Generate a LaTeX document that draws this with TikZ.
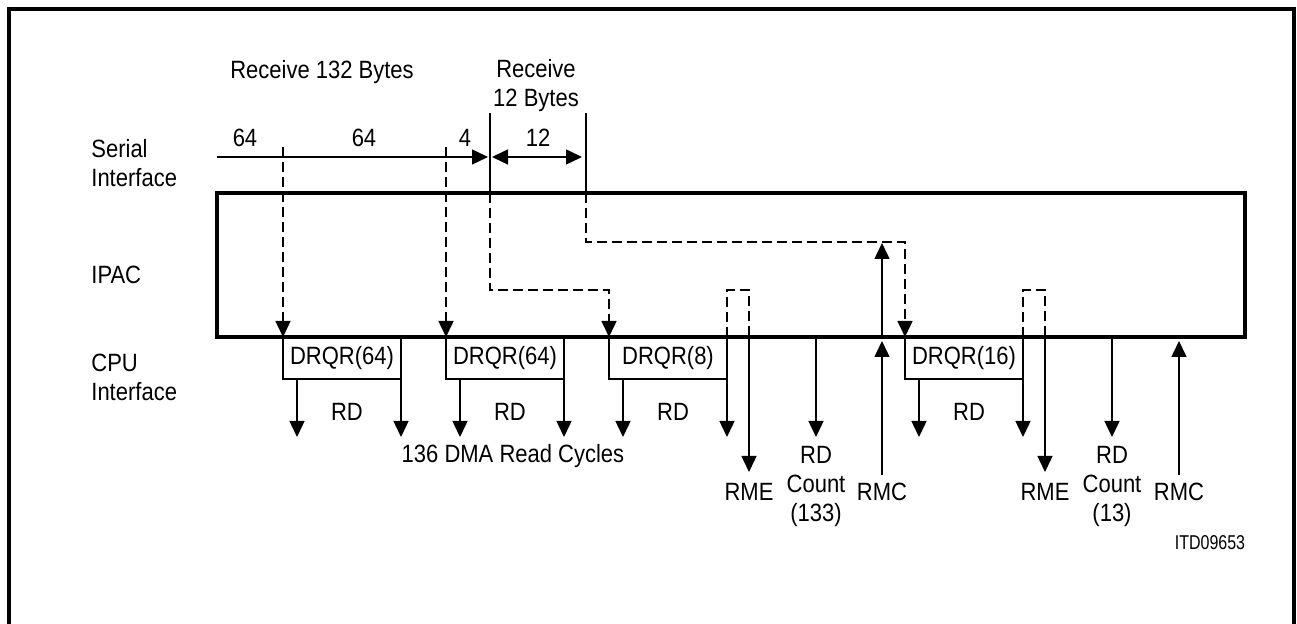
\documentclass[tikz,border=0pt]{standalone}
\usepackage{fontspec}
\setmainfont[FakeStretch=0.88]{Liberation Sans}
\newfontfamily\itdfont[FakeStretch=0.8]{Liberation Sans}
\usetikzlibrary{arrows.meta}

\def\yTop{193}
\def\yBot{337}
\def\yBox{379}
\def\yArr{437}

\begin{document}
\begin{tikzpicture}[x=0.5pt, y=-0.5pt]

  \tikzstyle{frame} = [line width=1.6pt]
  \tikzstyle{sig}   = [line width=0.75pt]
  \tikzstyle{dsh}   = [line width=0.75pt, dash pattern=on 5pt off 2.5pt]
  \tikzstyle{arr}   = [-{Triangle[length=8pt,width=7.5pt]}]
  \tikzstyle{darr}  = [{Triangle[length=8pt,width=7.5pt]}-{Triangle[length=8pt,width=7.5pt]}]
  \tikzstyle{lbl}   = [font=\fontsize{12.5}{14.5}\selectfont, inner sep=0pt, align=center]
  \tikzstyle{side}  = [lbl, anchor=west, align=left]

  \useasboundingbox (0,0) rectangle (1297,624);

  % ---- FRAME ----
  \draw[frame] (9,624) -- (9,9) -- (1294,9) -- (1294,624);
  \coordinate (ipacNW) at (217,\yTop);
  \coordinate (ipacSE) at (1245,\yBot);
  \draw[frame] (ipacNW) rectangle (ipacSE);

  % ---- ROW LABELS ----
  \node[side] (serial) at (91,163) {Serial\\Interface};
  \node[side] (ipac)   at (91,275) {IPAC};
  \node[side] (cpu)    at (91,377) {CPU\\Interface};

  % ---- SERIAL INTERFACE ----
  \node[lbl] (recvA) at (322,72) {Receive 132 Bytes};
  \node[lbl] (recvB) at (536,86) {Receive\\12 Bytes};
  \node[lbl] (nA) at (245,138) {64};
  \node[lbl] (nB) at (364,138) {64};
  \node[lbl] (nC) at (465,138) {4};
  \node[lbl] (nD) at (538,138) {12};

  \coordinate (sStart) at (217,157);
  \coordinate (tickA)  at (490,157);
  \coordinate (tickB)  at (586,157);
  \draw[sig,arr] (sStart) -- ([xshift=-1]tickA);
  \draw[sig,darr] ([xshift=1]tickA) -- ([xshift=-2]tickB);
  \draw[sig] (490,113) -- (490,\yTop);
  \draw[sig] (586,113) -- (586,\yTop);

  % ---- DMA REQUESTS (dashed) ----
  \draw[dsh,arr] (283,147) -- (283,\yBot);
  \draw[dsh,arr] (446,147) -- (446,\yBot);
  \draw[dsh,arr] (490,\yTop) -- (490,290) -- (609,290) -- (609,\yBot);
  \draw[dsh,arr] (586,\yTop) -- (586,242) -- (905,242) -- (905,\yBot);
  \draw[dsh] (727,\yBot) -- (727,290) -- (749,290) -- (749,\yBot);
  \draw[dsh] (1023,\yBot) -- (1023,290) -- (1045,290) -- (1045,\yBot);

  % ---- CPU INTERFACE: DRQR boxes and RD ----
  \foreach \bx/\cnt [count=\i] in {283/64, 446/64, 609/8, 905/16}{
    \draw[sig] (\bx,\yBot) -- (\bx,\yBox) -- (\bx+118,\yBox);
    \draw[sig,arr] (\bx+118,\yBot) -- (\bx+118,\yArr);
    \draw[sig,arr] (\bx+14,\yBox) -- (\bx+14,\yArr);
    \node[lbl] (drqr\i) at (\bx+59,358) {DRQR(\cnt)};
    \node[lbl] (rd\i) at (\bx+64,412) {RD};
  }
  \node[lbl] (dma) at (513,456) {136 DMA Read Cycles};

  % ---- RME / RD COUNT / RMC ----
  \foreach \xe/\xc/\xm/\num [count=\i] in {749/816/882/133, 1045/1112/1179/13}{
    \draw[sig,arr] (\xe,\yBot) -- (\xe,472);
    \node[lbl] (rme\i) at (\xe,492) {RME};
    \draw[sig,arr] (\xc,\yBot) -- (\xc,\yArr);
    \node[lbl] (count\i) at (\xc,486) {RD\\Count\\(\num)};
    \draw[sig,arr] (\xm,475) -- (\xm,341);
    \node[lbl] (rmc\i) at (\xm,492) {RMC};
  }
  \draw[sig,arr] (882,\yBot) -- (882,243);

  \node[lbl, font=\itdfont\fontsize{10}{12}\selectfont] (itd) at (1210,543) {ITD09653};

\end{tikzpicture}
\end{document}
